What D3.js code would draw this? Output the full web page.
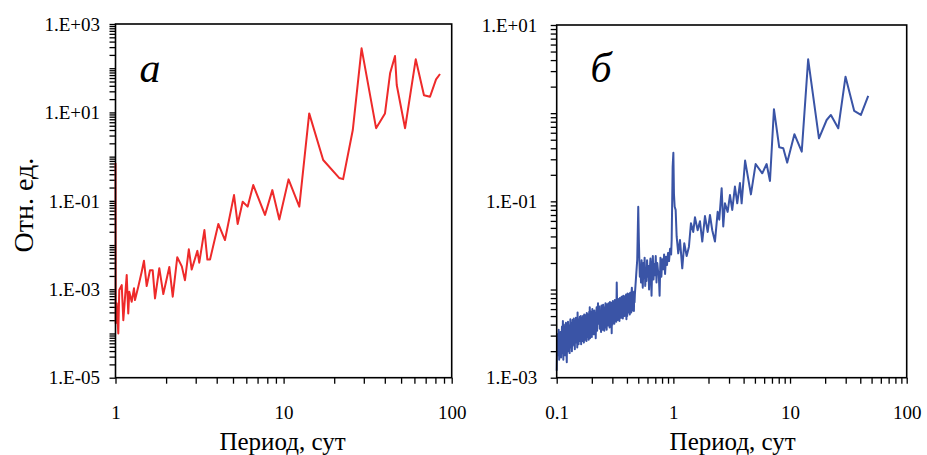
<!DOCTYPE html>
<html><head><meta charset="utf-8">
<script src="https://cdn.jsdelivr.net/npm/d3@7"></script>
<style>
body{margin:0;background:#fff}
svg{display:block}
text{font-family:"Liberation Serif","Times New Roman",serif;fill:#000}
</style>
</head><body>
<svg id="c" width="927" height="455"></svg>
<script>
// ---------- DATA ----------
const redPeriod = [1.0,1.003,1.017,1.039,1.053,1.089,1.113,1.166,1.191,1.208,
  1.248,1.288,1.306,1.366,1.432,1.477,1.533,1.604,1.664,1.718,
  1.822,1.925,2.09,2.19,2.33,2.48,2.59,2.73,2.84,3.07,
  3.15,3.38,3.52,3.65,4.09,4.48,5.07,5.33,5.71,6.11,
  6.60,7.75,8.57,9.43,10.7,12.4,14.2,17.2,21.4,22.6,
  25.8,29.1,35.5,40.1,43.0,46.0,47.1,52.8,61.1,68.4,
  74.3,80.7,85.2];
const redValue = [0.72,1.7e-4,4.8e-4,1.0e-4,9.6e-4,1.24e-3,2.0e-4,2.1e-3,2.85e-4,8.8e-4,
  5.2e-4,1.05e-3,5.7e-4,1.14e-3,2.5e-3,4.4e-3,1.18e-3,2.7e-3,2.7e-3,6.2e-4,
  3.0e-3,7.8e-4,3.2e-3,6.8e-4,5.3e-3,3.3e-3,1.6e-3,8.0e-3,2.8e-3,7.4e-3,
  4.0e-3,0.0218,4.7e-3,4.7e-3,0.030,0.013,0.135,0.030,0.095,0.074,
  0.228,0.048,0.175,0.038,0.306,0.074,9.5,0.84,0.33,0.31,
  4.0,282,4.4,9.5,76.7,189,41.7,4.4,159,24.4,
  22.6,56,74];

const bluePeriod = [
  0.100,0.101,0.102,0.103,0.104,0.105,0.106,0.107,0.108,0.109,
  0.110,0.111,0.112,0.113,0.114,0.115,0.116,0.117,0.118,0.119,
  0.120,0.121,0.122,0.123,0.124,0.125,0.126,0.127,0.128,0.129,
  0.130,0.131,0.132,0.133,0.134,0.135,0.136,0.137,0.138,0.139,
  0.140,0.141,0.142,0.143,0.144,0.145,0.146,0.147,0.148,0.149,
  0.150,0.151,0.152,0.153,0.154,0.155,0.156,0.157,0.158,0.159,
  0.160,0.161,0.162,0.163,0.164,0.165,0.166,0.167,0.168,0.169,
  0.170,0.171,0.172,0.173,0.174,0.175,0.176,0.177,0.178,0.179,
  0.180,0.181,0.182,0.183,0.184,0.185,0.186,0.187,0.188,0.189,
  0.190,0.191,0.192,0.193,0.194,0.195,0.196,0.197,0.198,0.199,
  0.200,0.202,0.204,0.206,0.208,0.210,0.212,0.214,0.216,0.218,
  0.220,0.222,0.224,0.226,0.228,0.230,0.232,0.234,0.236,0.238,
  0.240,0.242,0.244,0.246,0.248,0.250,0.252,0.254,0.256,0.258,
  0.260,0.262,0.264,0.266,0.268,0.270,0.272,0.274,0.276,0.278,
  0.280,0.282,0.284,0.286,0.288,0.290,0.292,0.294,0.296,0.298,
  0.300,0.303,0.306,0.309,0.312,0.315,0.318,0.321,0.324,0.327,
  0.330,0.333,0.336,0.339,0.342,0.345,0.348,0.351,0.354,0.357,
  0.360,0.363,0.366,0.369,0.372,0.375,0.378,0.381,0.384,0.387,
  0.390,0.393,0.396,0.399,0.402,0.405,0.408,0.411,0.414,0.417,
  0.420,0.423,0.426,0.429,0.432,0.435,0.438,0.441,0.444,0.447,
  0.450,0.453,0.456,0.459,0.462,0.465,0.468,0.479,0.490,
  0.500,0.506,0.511,0.516,0.522,0.528,0.534,0.540,0.547,0.553,
  0.560,0.567,0.574,0.581,0.588,0.595,0.603,0.611,0.619,0.627,
  0.636,0.645,0.650,0.658,0.667,0.676,0.686,0.696,0.706,0.717,
  0.728,0.740,0.750,0.762,0.775,0.789,0.803,0.818,0.833,0.849,
  0.865,0.882,0.900,0.918,0.937,0.957,0.967,0.986,1.000,
  1.012,1.026,1.046,1.067,1.101,1.139,1.192,1.240,1.300,1.360,
  1.415,1.481,1.531,1.615,1.690,1.769,1.866,1.968,2.059,2.154,
  2.272,2.397,2.474,2.594,2.677,2.768,2.919,3.055,3.197,3.371,
  3.528,3.721,3.847,4.12,4.62,5.07,5.78,6.30,6.73,7.28,
  8.08,8.75,9.46,10.9,12.6,14.3,17.7,20.6,22.4,25.9,
  29.9,35.5,40.5,46.8];
const blueValue = [
  0.0012,0.0031,0.0018,0.0024,0.0035,0.0016,0.0028,0.0021,0.0033,0.0017,
  0.0026,0.0038,0.0019,0.0044,0.0016,0.0040,0.0023,0.0034,0.0018,0.0029,
  0.0042,0.0021,0.0015,0.0036,0.0025,0.0043,0.0020,0.0031,0.0039,0.0019,
  0.0034,0.0046,0.0022,0.0028,0.0041,0.0020,0.0037,0.0045,0.0024,0.0032,
  0.0047,0.0023,0.0039,0.0021,0.0044,0.0030,0.0048,0.0025,0.0035,0.0042,
  0.0022,0.0055,0.0031,0.0038,0.0024,0.0046,0.0027,0.0041,0.0049,0.0026,
  0.0036,0.0050,0.0024,0.0043,0.0031,0.0048,0.0026,0.0039,0.0050,0.0029,
  0.0045,0.0025,0.0052,0.0034,0.0040,0.0027,0.0051,0.0031,0.0047,0.0036,
  0.0026,0.0054,0.0038,0.0044,0.0029,0.0052,0.0033,0.0049,0.0027,0.0042,
  0.0056,0.0032,0.0063,0.0028,0.0053,0.0037,0.0056,0.0030,0.0044,0.0051,
  0.0029,0.0060,0.0036,0.0048,0.0031,0.0058,0.0040,0.0053,0.0028,0.0050,
  0.0063,0.0034,0.0055,0.0070,0.0041,0.0043,0.0064,0.0036,0.0052,0.0046,
  0.0033,0.0066,0.0041,0.0059,0.0035,0.0067,0.0045,0.0056,0.0034,0.0063,
  0.0050,0.0070,0.0037,0.0058,0.0035,0.0068,0.0047,0.0062,0.0039,0.0070,
  0.0043,0.0066,0.0037,0.0072,0.0051,0.0060,0.0038,0.0071,0.0032,0.0064,
  0.0040,0.0074,0.0052,0.0066,0.0041,0.0076,0.0055,0.0069,0.0043,0.0120,
  0.0060,0.0045,0.0078,0.0053,0.0071,0.0044,0.0080,0.0058,0.0068,0.0048,
  0.0083,0.0056,0.0072,0.0047,0.0085,0.0061,0.0076,0.0050,0.0084,0.0065,
  0.0052,0.0088,0.0046,0.0079,0.0050,0.0090,0.0066,0.0083,0.0055,0.0089,
  0.0068,0.0052,0.0092,0.0063,0.0080,0.0055,0.0093,0.0105,0.0070,0.0058,
  0.0094,0.0065,0.0084,0.0057,0.0095,0.0072,0.0088,0.0140,0.0217,
  0.087,0.037,0.0217,0.0140,0.0190,0.0120,0.0215,0.0150,0.0105,0.0200,
  0.0135,0.0230,0.0110,0.0170,0.0125,0.0215,0.0140,0.0185,0.0100,0.0160,
  0.0225,0.0120,0.0085,0.0175,0.0240,0.0130,0.0195,0.0145,0.0240,0.0120,
  0.0200,0.0160,0.0150,0.0085,0.0230,0.0140,0.0220,0.0170,0.0250,0.0150,
  0.0235,0.0190,0.0260,0.0210,0.0290,0.0250,0.0365,0.247,0.356,
  0.12,0.087,0.080,0.040,0.0257,0.0365,0.0174,0.0335,0.024,0.0306,
  0.0564,0.045,0.066,0.047,0.0596,0.035,0.068,0.045,0.070,0.047,
  0.035,0.076,0.062,0.141,0.052,0.095,0.076,0.118,0.080,0.147,
  0.095,0.161,0.095,0.29,0.120,0.265,0.208,0.265,0.170,1.11,
  0.41,0.40,0.275,0.577,0.366,4.08,0.519,0.837,0.955,0.674,
  2.59,1.06,0.955,1.57];

const leftYTickValues = [1e-5,1e-3,1e-1,1e1,1e3];
const leftYTickLabels = ["1.E-05","1.E-03","1.E-01","1.E+01","1.E+03"];
const leftXTickValues = [1,10,100];
const leftXTickLabels = ["1","10","100"];
const rightYTickValues = [1e-3,1e-1,1e1];
const rightYTickLabels = ["1.E-03","1.E-01","1.E+01"];
const rightXTickValues = [0.1,1,10,100];
const rightXTickLabels = ["0.1","1","10","100"];
const xTitle = "Период, сут";
const yTitle = "Отн. ед.";
const panelLetters = ["а","б"];

// ---------- DRAW ----------
const svg = d3.select("#c");

function logTicks(lo, hi){
  const out=[];
  for(let e=Math.round(Math.log10(lo)); e<=Math.round(Math.log10(hi)); e++){
    for(let k=1;k<=9;k++){
      const v=k*Math.pow(10,e);
      if(v>=lo*0.999 && v<=hi*1.001) out.push(v);
    }
  }
  return out;
}
function labelFor(vals, labels){
  return d => {
    const i = vals.findIndex(v => Math.abs(Math.log10(v)-Math.log10(d))<1e-6);
    return i>=0 ? labels[i] : "";
  };
}

function panel(o){
  const x = d3.scaleLog().domain(o.xDom).range([o.x0,o.x1]);
  const y = d3.scaleLog().domain(o.yDom).range([o.y1,o.y0]);
  const g = svg.append("g");

  const gx = g.append("g").attr("transform",`translate(0,${o.y1})`)
    .call(d3.axisBottom(x).tickValues(logTicks(o.xDom[0],o.xDom[1]))
      .tickFormat(labelFor(o.xTV,o.xTL)).tickSize(6).tickSizeOuter(0));
  gx.select(".domain").remove();
  gx.selectAll("line").attr("stroke","#000").attr("stroke-width",1.3);
  gx.selectAll("text").attr("y",41.5).attr("dy",null).attr("font-size",19)
    .attr("font-family","Liberation Serif").attr("fill","#000");

  const gy = g.append("g").attr("transform",`translate(${o.x0},0)`)
    .call(d3.axisLeft(y).tickValues(logTicks(o.yDom[0],o.yDom[1]))
      .tickFormat(labelFor(o.yTV,o.yTL)).tickSize(6).tickSizeOuter(0).tickPadding(o.yPad));
  gy.select(".domain").remove();
  gy.selectAll("line").attr("stroke","#000").attr("stroke-width",1.3);
  gy.selectAll("text").attr("font-size",19).attr("dy","0.33em")
    .attr("font-family","Liberation Serif").attr("fill","#000");

  const pts = o.px.map((p,i)=>[p,o.pv[i]]);
  g.append("path").datum(pts)
    .attr("fill","none").attr("stroke",o.color).attr("stroke-width",o.lw)
    .attr("stroke-linejoin","round")
    .attr("d", d3.line().x(d=>x(d[0])).y(d=>y(d[1])));

  g.append("rect").attr("x",o.x0).attr("y",o.y0)
    .attr("width",o.x1-o.x0).attr("height",o.y1-o.y0)
    .attr("fill","none").attr("stroke","#000").attr("stroke-width",1.6);

  g.append("text").attr("x",(o.x0+o.x1)/2 + o.titleDx).attr("y",450)
    .attr("text-anchor","middle").attr("font-size",25).text(xTitle);

  g.append("text").attr("x",o.letterX).attr("y",82)
    .attr("text-anchor","middle").attr("font-size",42).attr("font-style","italic")
    .text(o.letter);
}

panel({xDom:[1,100], yDom:[1e-5,1e3], x0:115.5, x1:451.7, y0:24, y1:377.7,
  xTV:leftXTickValues, xTL:leftXTickLabels, yTV:leftYTickValues, yTL:leftYTickLabels,
  yPad:9.5, px:redPeriod, pv:redValue, color:"#ee2a2a", lw:2,
  titleDx:-1, letterX:150, letter:panelLetters[0]});

panel({xDom:[0.1,100], yDom:[1e-3,1e1], x0:556.7, x1:906.7, y0:25, y1:377.7,
  xTV:rightXTickValues, xTL:rightXTickLabels, yTV:rightYTickValues, yTL:rightYTickLabels,
  yPad:13.4, px:bluePeriod, pv:blueValue, color:"#3a54a6", lw:2,
  titleDx:1, letterX:601, letter:panelLetters[1]});

svg.append("text").attr("transform","translate(33,205) rotate(-90)")
  .attr("text-anchor","middle").attr("font-size",28).text(yTitle);
</script>
</body></html>
